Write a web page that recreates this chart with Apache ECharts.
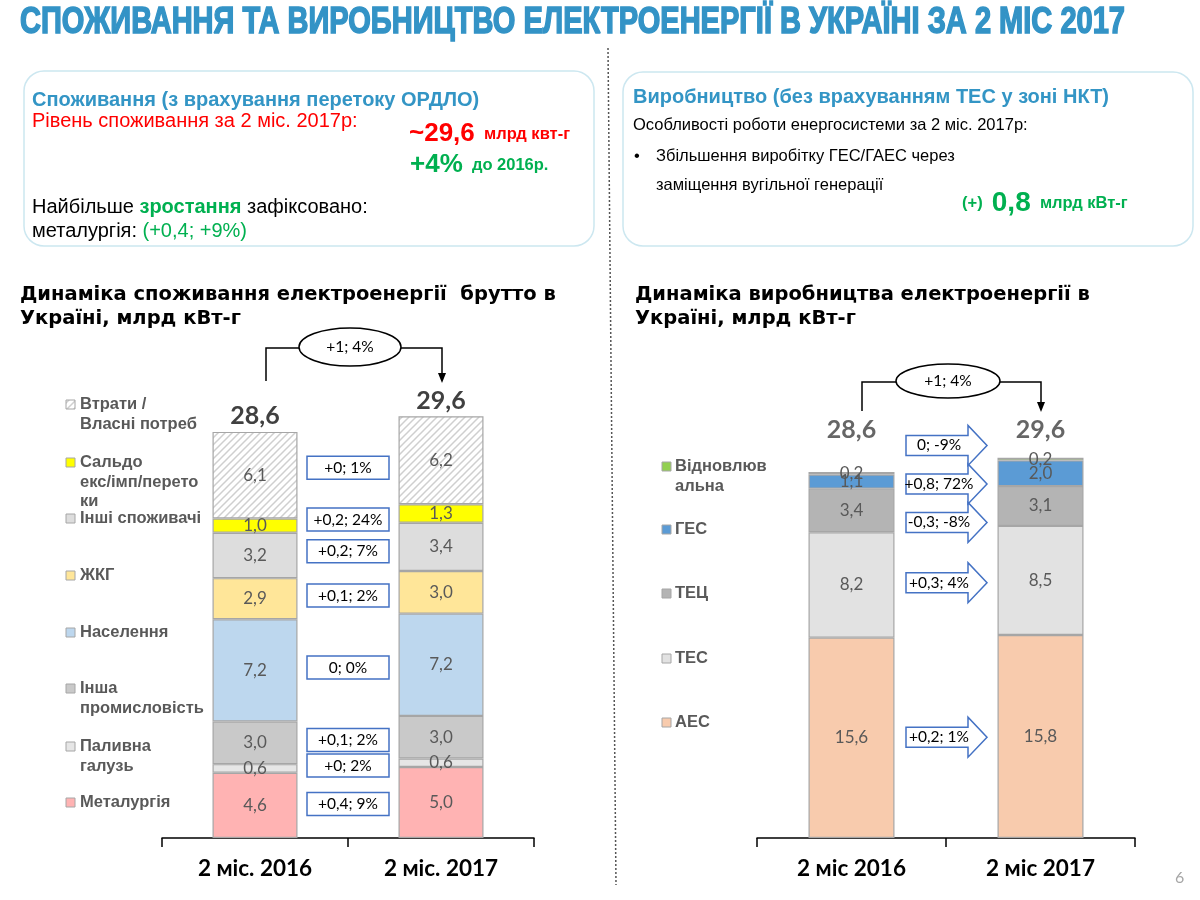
<!DOCTYPE html>
<html>
<head>
<meta charset="utf-8">
<script src="https://cdn.jsdelivr.net/npm/echarts@6/dist/echarts.min.js"></script>
<style>
html, body { margin: 0; background: #fff; }
#chart { width: 1200px; height: 900px; }
</style>
</head>
<body>
<div id="chart"></div>
<script>
// categories
const consYears = ['2 міс. 2016', '2 міс. 2017']
const prodYears = ['2 міс 2016', '2 міс 2017']

// consumption, bottom to top
const consNames = ['Металургія', 'Паливна галузь', 'Інша промисловість', 'Населення', 'ЖКГ', 'Інші споживачі', 'Сальдо екс/імп/перетоки', 'Втрати / Власні потреб']
const consLegend = ['Металургія', 'Паливна\nгалузь', 'Інша\nпромисловість', 'Населення', 'ЖКГ', 'Інші споживачі', 'Сальдо\nекс/імп/перето\nки', 'Втрати /\nВласні потреб']
const metallurgy = [4.6, 5.0]
const fuelIndustry = [0.6, 0.6]
const otherIndustry = [3.0, 3.0]
const population = [7.2, 7.2]
const housing = [2.9, 3.0]
const otherConsumers = [3.2, 3.4]
const exportBalance = [1.0, 1.3]
const losses = [6.1, 6.2]
const consTotals = [28.6, 29.6]
const consChanges = ['+0,4; 9%', '+0; 2%', '+0,1; 2%', '0; 0%', '+0,1; 2%', '+0,2; 7%', '+0,2; 24%', '+0; 1%']

// production, bottom to top
const prodNames = ['АЕС', 'ТЕС', 'ТЕЦ', 'ГЕС', 'Відновлювальна']
const prodLegend = ['АЕС', 'ТЕС', 'ТЕЦ', 'ГЕС', 'Відновлюв\nальна']
const nuclear = [15.6, 15.8]
const thermal = [8.2, 8.5]
const chp = [3.4, 3.1]
const hydro = [1.1, 2.0]
const renewable = [0.2, 0.2]
const prodTotals = [28.6, 29.6]
const prodChanges = ['+0,2; 1%', '+0,3; 4%', '-0,3; -8%', '+0,8; 72%', '0; -9%']

// ---- layout / styles ----
const consData = [metallurgy, fuelIndustry, otherIndustry, population, housing, otherConsumers, exportBalance, losses]
const prodData = [nuclear, thermal, chp, hydro, renewable]

function hatch() {
	const c = document.createElement('canvas')
	c.width = 7; c.height = 7
	const g = c.getContext('2d')
	g.fillStyle = '#fff'; g.fillRect(0, 0, 7, 7)
	g.strokeStyle = '#cfcfcf'; g.lineWidth = 1.5
	g.beginPath()
	g.moveTo(-1, 8); g.lineTo(8, -1)
	g.moveTo(-3, 3); g.lineTo(3, -3)
	g.moveTo(4, 10); g.lineTo(10, 4)
	g.stroke()
	return c
}
const hatchFill = { image: hatch(), repeat: 'repeat' }

const consColors = ['#FFB3B3', '#E6E6E6', '#C9C9C9', '#BDD7EE', '#FFE699', '#DDDDDD', '#FFFF00', hatchFill]
const prodColors = ['#F8CBAD', '#E2E2E2', '#B4B4B4', '#5B9BD5', '#92D050']
const consLegendY = [803, 747, 689, 633, 576, 519, 463, 405]
const prodLegendY = [723, 659, 594, 530, 467]
const prodTotalLevel = 31.8

const fmt = v => String(v).replace('.', ',')
const fmt1 = v => v.toFixed(1).replace('.', ',')

// average centre of a segment over the two years
function segMids(arrs) {
	const base = [0, 0], out = []
	arrs.forEach(a => {
		out.push((base[0] + a[0] / 2 + base[1] + a[1] / 2) / 2)
		base[0] += a[0]; base[1] += a[1]
	})
	return out
}
// push apart annotation positions closer than gap
function spread(vals, gap) {
	let groups = vals.map(v => ({ sum: v, n: 1 }))
	const pos = g => g.sum / g.n
	let merged = true
	while (merged) {
		merged = false
		for (let i = 0; i < groups.length - 1; i++) {
			const a = groups[i], b = groups[i + 1]
			if ((pos(b) - (b.n - 1) * gap / 2) - (pos(a) + (a.n - 1) * gap / 2) < gap) {
				groups.splice(i, 2, { sum: a.sum + b.sum, n: a.n + b.n })
				merged = true
				break
			}
		}
	}
	const out = []
	groups.forEach(g => { for (let k = 0; k < g.n; k++) out.push(pos(g) + (k - (g.n - 1) / 2) * gap) })
	return out
}
const consBoxY = spread(segMids(consData), 1.75)
const prodArrowY = spread(segMids(prodData), 3.0)

const barLabel = {
	show: true, position: 'inside', color: '#595959', fontSize: 17, fontFamily: 'Lato',
	formatter: p => fmt1(p.value)
}

const series = []
consData.forEach((d, i) => series.push({
	type: 'bar', name: consNames[i], stack: 'cons', xAxisIndex: 0, yAxisIndex: 0,
	data: d, barWidth: 85,
	itemStyle: { color: consColors[i], borderColor: '#A6A6A6', borderWidth: 1.2 },
	label: barLabel
}))
series.push({
	type: 'bar', name: 'consTotal', stack: 'cons', xAxisIndex: 0, yAxisIndex: 0,
	data: consTotals.map(() => 0), barWidth: 85,
	itemStyle: { color: 'transparent', borderWidth: 0 },
	label: {
		show: true, position: 'top', distance: 3, color: '#404040', fontSize: 25, fontWeight: 'bold', fontFamily: 'Lato',
		formatter: p => fmt(consTotals[p.dataIndex])
	}
})
prodData.forEach((d, i) => series.push({
	type: 'bar', name: prodNames[i], stack: 'prod', xAxisIndex: 1, yAxisIndex: 1,
	data: d, barWidth: 86,
	itemStyle: { color: prodColors[i], borderColor: '#A6A6A6', borderWidth: 1.2 },
	label: barLabel
}))
series.push({
	type: 'scatter', name: 'prodTotal', xAxisIndex: 1, yAxisIndex: 1,
	data: prodTotals.map((t, i) => [i, prodTotalLevel]),
	symbolSize: 1, itemStyle: { color: 'transparent' }, clip: false,
	label: {
		show: true, position: 'inside', color: '#404040', fontSize: 25, fontWeight: 'bold', fontFamily: 'Lato',
		formatter: p => fmt(prodTotals[p.dataIndex])
	}
})
// change boxes between consumption bars
series.push({
	type: 'custom', xAxisIndex: 0, yAxisIndex: 0, z: 5,
	data: consBoxY.map(v => [0, v]),
	renderItem: (params, api) => {
		const y = api.value(1)
		const a = api.coord([0, y]), b = api.coord([1, y])
		const cx = (a[0] + b[0]) / 2, cy = a[1]
		return { type: 'group', children: [
			{ type: 'rect', shape: { x: cx - 41, y: cy - 11.5, width: 82, height: 23 }, style: { fill: '#fff', stroke: '#4472C4', lineWidth: 1.5 } },
			{ type: 'text', style: { text: consChanges[params.dataIndex], x: cx, y: cy, align: 'center', verticalAlign: 'middle', fill: '#000', fontSize: 15.5, fontFamily: 'Lato' } }
		] }
	}
})
// change arrows between production bars
series.push({
	type: 'custom', xAxisIndex: 1, yAxisIndex: 1, z: 5,
	data: prodArrowY.map(v => [0, v]),
	renderItem: (params, api) => {
		const y = api.value(1)
		const a = api.coord([0, y]), b = api.coord([1, y])
		const cx = (a[0] + b[0]) / 2, cy = a[1]
		const x0 = cx - 40, xb = cx + 22, xt = cx + 41
		return { type: 'group', children: [
			{ type: 'polygon', shape: { points: [[x0, cy - 10], [xb, cy - 10], [xb, cy - 20], [xt, cy], [xb, cy + 20], [xb, cy + 10], [x0, cy + 10]] },
				style: { fill: '#fff', stroke: '#4472C4', lineWidth: 1.5 } },
			{ type: 'text', style: { text: prodChanges[params.dataIndex], x: cx - 7, y: cy, align: 'center', verticalAlign: 'middle', fill: '#000', fontSize: 15.5, fontFamily: 'Lato' } }
		] }
	}
})

function xAxis(data, gi) {
	return {
		type: 'category', gridIndex: gi, data,
		axisLine: { lineStyle: { color: '#000', width: 1.5 } },
		axisTick: { show: true, length: 9, lineStyle: { color: '#000', width: 1.5 } },
		axisLabel: { color: '#000', fontSize: 22.5, fontWeight: 'bold', fontFamily: 'Lato', margin: 19 }
	}
}

// ---- decorations ----
const title = 'СПОЖИВАННЯ ТА ВИРОБНИЦТВО ЕЛЕКТРОЕНЕРГІЇ В УКРАЇНІ ЗА 2 МІС 2017'
const ctx = document.createElement('canvas').getContext('2d')
ctx.font = 'bold 36px "Liberation Sans"'
const titleScale = 1105 / ctx.measureText(title).width

const txt = (x, y, text, style) => ({ type: 'text', x, y, style: Object.assign({ text, fontFamily: 'Liberation Sans', verticalAlign: 'middle' }, style) })
const line = (pts, extra) => ({ type: 'polyline', shape: { points: pts }, style: Object.assign({ stroke: '#000', lineWidth: 1.5, fill: null }, extra) })
const tri = (x, y) => ({ type: 'polygon', shape: { points: [[x - 4, y - 10], [x + 4, y - 10], [x, y]] }, style: { fill: '#000' } })
const rich = (fill, big, small) => ({
	a: { fontSize: big, fontWeight: 'bold', fill, fontFamily: 'Liberation Sans' },
	b: { fontSize: small, fontWeight: 'bold', fill, fontFamily: 'Liberation Sans' }
})

const graphic = [
	{ type: 'text', x: 20, y: 23, scaleX: titleScale, style: { text: title, fontFamily: 'Liberation Sans', fontWeight: 'bold', fontSize: 36, fill: '#3393C6', stroke: '#3393C6', lineWidth: 1.5, verticalAlign: 'middle' } },
	line([[608, 48], [616, 885]], { stroke: '#555', lineDash: [2, 2], lineWidth: 1.5 }),
	{ type: 'rect', shape: { x: 24, y: 71, width: 570, height: 175, r: 20 }, style: { fill: null, stroke: '#CCE7F0', lineWidth: 1.5 } },
	{ type: 'rect', shape: { x: 623, y: 72, width: 570, height: 174, r: 20 }, style: { fill: null, stroke: '#CCE7F0', lineWidth: 1.5 } },
	txt(32, 100, 'Споживання (з врахування перетоку ОРДЛО)', { fontSize: 20, fontWeight: 'bold', fill: '#3395C5' }),
	txt(32, 121, 'Рівень споживання за 2 міс. 2017р:', { fontSize: 20, fill: '#FF0000' }),
	txt(409, 134, '{a|~29,6}{b|  млрд квт-г}', { rich: rich('#FF0000', 26, 16.5) }),
	txt(410, 165, '{a|+4%}{b|  до 2016р.}', { rich: rich('#00B050', 26, 16.5) }),
	txt(32, 207, '{n|Найбільше }{g|зростання}{n| зафіксовано:}', { rich: { n: { fontSize: 20, fill: '#000', fontFamily: 'Liberation Sans' }, g: { fontSize: 20, fontWeight: 'bold', fill: '#00B050', fontFamily: 'Liberation Sans' } } }),
	txt(32, 231, '{n|металургія: }{g|(+0,4; +9%)}', { rich: { n: { fontSize: 20, fill: '#000', fontFamily: 'Liberation Sans' }, g: { fontSize: 20, fill: '#00B050', fontFamily: 'Liberation Sans' } } }),
	txt(633, 97, 'Виробництво (без врахуванням ТЕС у зоні НКТ)', { fontSize: 20, fontWeight: 'bold', fill: '#3395C5' }),
	txt(633, 125, 'Особливості роботи енергосистеми за 2 міс. 2017р:', { fontSize: 16.5, fill: '#000' }),
	txt(634, 156, '•', { fontSize: 16.5, fill: '#000' }),
	txt(656, 156, 'Збільшення виробітку ГЕС/ГАЕС через', { fontSize: 16.5, fill: '#000' }),
	txt(656, 185, 'заміщення вугільної генерації', { fontSize: 16.5, fill: '#000' }),
	txt(962, 203, '{b|(+)  }{a|0,8}{b|  млрд кВт-г}', { rich: rich('#00B050', 28, 16.5) }),
	txt(20, 295, 'Динаміка споживання електроенергії  брутто в', { fontSize: 19.5, fontWeight: 'bold', fontFamily: 'DejaVu Sans', fill: '#000' }),
	txt(20, 319, 'Україні, млрд кВт-г', { fontSize: 19.5, fontWeight: 'bold', fontFamily: 'DejaVu Sans', fill: '#000' }),
	txt(635, 295, 'Динаміка виробництва електроенергії в', { fontSize: 19.5, fontWeight: 'bold', fontFamily: 'DejaVu Sans', fill: '#000' }),
	txt(635, 319, 'Україні, млрд кВт-г', { fontSize: 19.5, fontWeight: 'bold', fontFamily: 'DejaVu Sans', fill: '#000' }),
	// bracket, consumption
	line([[266, 381], [266, 348], [300, 348]]),
	line([[401, 348], [442, 348], [442, 375]]),
	tri(442, 383),
	{ type: 'ellipse', shape: { cx: 350, cy: 347, rx: 51, ry: 19 }, style: { fill: '#fff', stroke: '#000', lineWidth: 1.5 } },
	txt(350, 347, '+1; 4%', { fontSize: 15.5, fontFamily: 'Lato', fill: '#000', align: 'center' }),
	// bracket, production
	line([[862, 411], [862, 382], [896, 382]]),
	line([[1000, 382], [1041, 382], [1041, 404]]),
	tri(1041, 412),
	{ type: 'ellipse', shape: { cx: 948, cy: 381, rx: 52, ry: 17 }, style: { fill: '#fff', stroke: '#000', lineWidth: 1.5 } },
	txt(948, 381, '+1; 4%', { fontSize: 15.5, fontFamily: 'Lato', fill: '#000', align: 'center' }),
	txt(1175, 878, '6', { fontSize: 16, fontFamily: 'Lato', fill: '#A6A6A6' })
]
// legends
consLegend.forEach((t, i) => {
	graphic.push({ type: 'rect', shape: { x: 66, y: consLegendY[i] - 5, width: 9, height: 9 }, style: { fill: consColors[i], stroke: '#A6A6A6', lineWidth: 1 } })
	graphic.push({ type: 'text', x: 80, y: consLegendY[i] - 10, style: { text: t, fontFamily: 'Liberation Sans', fontWeight: 'bold', fontSize: 16.5, lineHeight: 19.5, fill: '#595959', verticalAlign: 'top' } })
})
prodLegend.forEach((t, i) => {
	graphic.push({ type: 'rect', shape: { x: 662, y: prodLegendY[i] - 5, width: 9, height: 9 }, style: { fill: prodColors[i], stroke: '#A6A6A6', lineWidth: 1 } })
	graphic.push({ type: 'text', x: 675, y: prodLegendY[i] - 10, style: { text: t, fontFamily: 'Liberation Sans', fontWeight: 'bold', fontSize: 16.5, lineHeight: 19.5, fill: '#595959', verticalAlign: 'top' } })
})

const chart = echarts.init(document.getElementById('chart'))
chart.setOption({
	animation: false,
	backgroundColor: '#fff',
	grid: [
		{ left: 162, width: 372, top: 412, height: 426 },
		{ left: 757, width: 378, top: 427, height: 411 }
	],
	xAxis: [xAxis(consYears, 0), xAxis(prodYears, 1)],
	yAxis: [
		{ type: 'value', gridIndex: 0, min: 0, max: 30, show: false },
		{ type: 'value', gridIndex: 1, min: 0, max: 32, show: false }
	],
	series,
	graphic
})
</script>
</body>
</html>
